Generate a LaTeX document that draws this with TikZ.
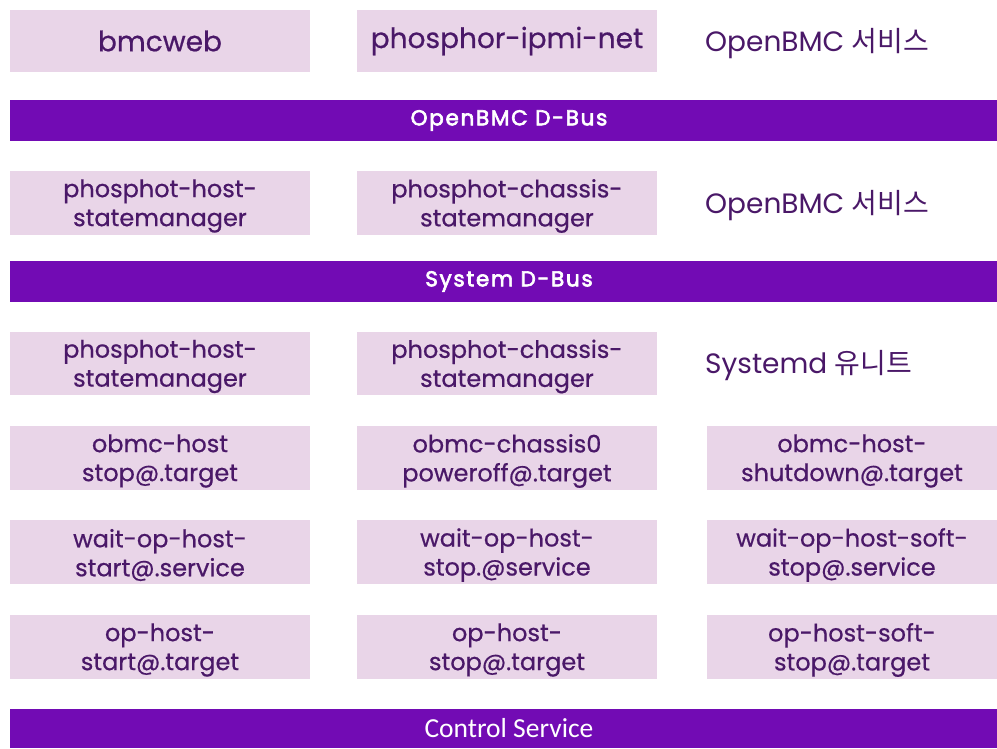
\documentclass[tikz,border=0pt]{standalone}
\usepackage{fontspec}
\setmainfont{Poppins}
\newfontfamily\cellfont[FakeBold=0.6]{Poppins}
\newfontfamily\barfont[FakeBold=3,LetterSpace=8]{Poppins}
\newfontfamily\krfont{Noto Sans CJK KR}
\newfontfamily\ctlfont{Carlito}
\definecolor{boxfill}{HTML}{E9D5E8}
\definecolor{txt}{HTML}{4A1868}
\definecolor{bar}{HTML}{720BB4}
\begin{document}
\begin{tikzpicture}[x=1pt,y=-1pt,
  cell/.style={fill=boxfill,inner sep=0pt,minimum height=63pt},
  cellA/.style={cell,minimum width=300pt},
  cellB/.style={cell,minimum width=290pt},
  celltext/.style={inner sep=0pt,text=txt,align=center,font=\cellfont\fontsize{24}{29}\selectfont},
  busbar/.style={fill=bar,inner sep=0pt,minimum width=998pt,text=white,
    font=\barfont\fontsize{21.5}{24}\selectfont},
  lbl/.style={anchor=base west,inner sep=0pt,text=txt,font=\fontsize{28}{32}\selectfont}]
\path[use as bounding box] (0,0) rectangle (997,748);
\begin{scope}
\clip (0,0) rectangle (997,748);
% row 1
\node[cellA,minimum height=62pt,text=txt,font=\cellfont\fontsize{28}{32}\selectfont] (bmcweb) at (160,41) {bmcweb};
\node[cellA,minimum height=62pt,text=txt,font=\cellfont\fontsize{28}{32}\selectfont] (ipmi) at (507,41) {phosphor-ipmi-net};
\node[lbl] (svc1) at (705,51.5) {OpenBMC {\krfont 서비스}};
% bar 1
\node[busbar,minimum height=41pt] (dbus1) at (509,120.5) {OpenBMC D-Bus};
% row 2
\node[cellA,minimum height=64pt] (hsm1) at (160,203) {};
\node[celltext] (hsm1t) at ([yshift=-3pt]hsm1.center) {phosphot-host-\\statemanager};
\node[cellA,minimum height=64pt] (csm1) at (507,203) {};
\node[celltext] (csm1t) at ([yshift=-3pt]csm1.center) {phosphot-chassis-\\statemanager};
\node[lbl] (svc2) at (705,213.5) {OpenBMC {\krfont 서비스}};
% bar 2
\node[busbar,minimum height=41pt] (dbus2) at (509,281.5) {System D-Bus};
% row 3
\node[cellA] (hsm2) at (160,363.5) {};
\node[celltext] (hsm2t) at ([yshift=-3pt]hsm2.center) {phosphot-host-\\statemanager};
\node[cellA] (csm2) at (507,363.5) {};
\node[celltext] (csm2t) at ([yshift=-3pt]csm2.center) {phosphot-chassis-\\statemanager};
\node[lbl] (units) at (705,373.5) {Systemd {\krfont 유니트}};
% row 4
\node[cellA,minimum height=64pt] (r4a) at (160,458) {};
\node[celltext] (r4at) at ([yshift=-3pt]r4a.center) {obmc-host\\stop@.target};
\node[cellA,minimum height=64pt] (r4b) at (507,458) {};
\node[celltext] (r4bt) at ([yshift=-3pt]r4b.center) {obmc-chassis0\\poweroff@.target};
\node[cellB,minimum height=64pt] (r4c) at (852,458) {};
\node[celltext] (r4ct) at ([yshift=-3pt]r4c.center) {obmc-host-\\shutdown@.target};
% row 5
\node[cellA,minimum height=64pt] (r5a) at (160,552) {};
\node[celltext] (r5at) at ([yshift=-3pt]r5a.center) {wait-op-host-\\start@.service};
\node[cellA,minimum height=64pt] (r5b) at (507,552) {};
\node[celltext] (r5bt) at ([yshift=-3pt]r5b.center) {wait-op-host-\\stop.@service};
\node[cellB,minimum height=64pt] (r5c) at (852,552) {};
\node[celltext] (r5ct) at ([yshift=-3pt]r5c.center) {wait-op-host-soft-\\stop@.service};
% row 6
\node[cellA,minimum height=64pt] (r6a) at (160,647) {};
\node[celltext] (r6at) at ([yshift=-3pt]r6a.center) {op-host-\\start@.target};
\node[cellA,minimum height=64pt] (r6b) at (507,647) {};
\node[celltext] (r6bt) at ([yshift=-3pt]r6b.center) {op-host-\\stop@.target};
\node[cellB,minimum height=64pt] (r6c) at (852,647) {};
\node[celltext] (r6ct) at ([yshift=-3pt]r6c.center) {op-host-soft-\\stop@.target};
% bar 3
\node[busbar,minimum height=39pt,font=\ctlfont\fontsize{27.5}{30}\selectfont] (ctl) at (509,728.5) {Control Service};
\end{scope}
\end{tikzpicture}
\end{document}
